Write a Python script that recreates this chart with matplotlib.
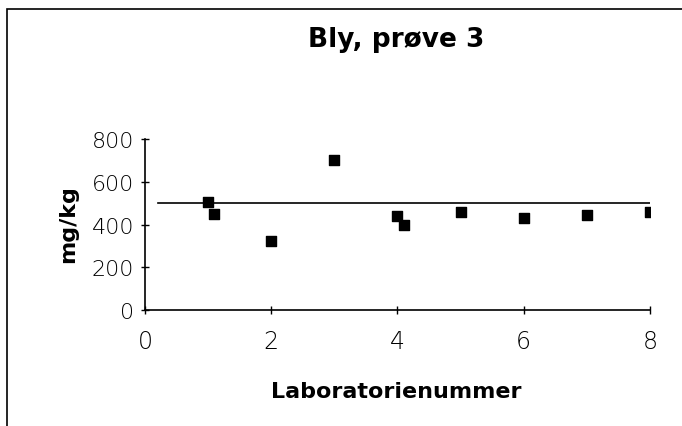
import matplotlib.pyplot as plt
from matplotlib.patches import Rectangle

# Lab results, lead sample 3
labNumbers = [1.0, 1.1, 2.0, 3.0, 4.0, 4.1, 5.0, 6.0, 7.0, 8.0]
leadValues = [505, 450, 322, 700, 438, 400, 457, 432, 444, 460]

# reference (true) value line
refX = [0.2, 8.0]
refY = [500, 500]

xTicks = [0, 2, 4, 6, 8]
yTicks = [0, 200, 400, 600, 800]

plt.rcParams['font.family'] = ['DejaVu Sans']

fig = plt.figure(figsize=(6.82, 4.27), dpi=100)
ax = fig.add_axes([0.2126, 0.2717, 0.7404, 0.4003])

ax.plot(refX, refY, color='black', linewidth=1.2)
ax.scatter(labNumbers, leadValues, marker='s', s=55, color='black', zorder=3)

ax.set_xlim(0, 8)
ax.set_ylim(0, 800)
ax.set_xticks(xTicks)
ax.set_yticks(yTicks)
ax.tick_params(direction='inout', length=6, width=1)
ax.tick_params(axis='x', labelsize=17, pad=11)
ax.tick_params(axis='y', labelsize=16, pad=5)
for lbl in ax.get_xticklabels() + ax.get_yticklabels():
    lbl.set_fontweight('light')
ax.spines['top'].set_visible(False)
ax.spines['right'].set_visible(False)
ax.spines['left'].set_linewidth(1.2)
ax.spines['bottom'].set_linewidth(1.2)

fig.text(0.581, 0.906, 'Bly, prøve 3', ha='center', va='center',
         fontsize=19, fontweight='bold')
fig.text(0.0997, 0.475, 'mg/kg', ha='center', va='center', rotation=90,
         fontsize=16, fontweight='bold')
fig.text(0.581, 0.082, 'Laboratorienummer', ha='center', va='center',
         fontsize=16, fontweight='bold')

# outer frame, cut off at right and bottom like the scan
fig.patches.append(Rectangle((0.0103, -0.2), 1.2, 1.1766, transform=fig.transFigure,
                             fill=False, edgecolor='black', linewidth=1.2))

fig.savefig('out.png', dpi=100)
